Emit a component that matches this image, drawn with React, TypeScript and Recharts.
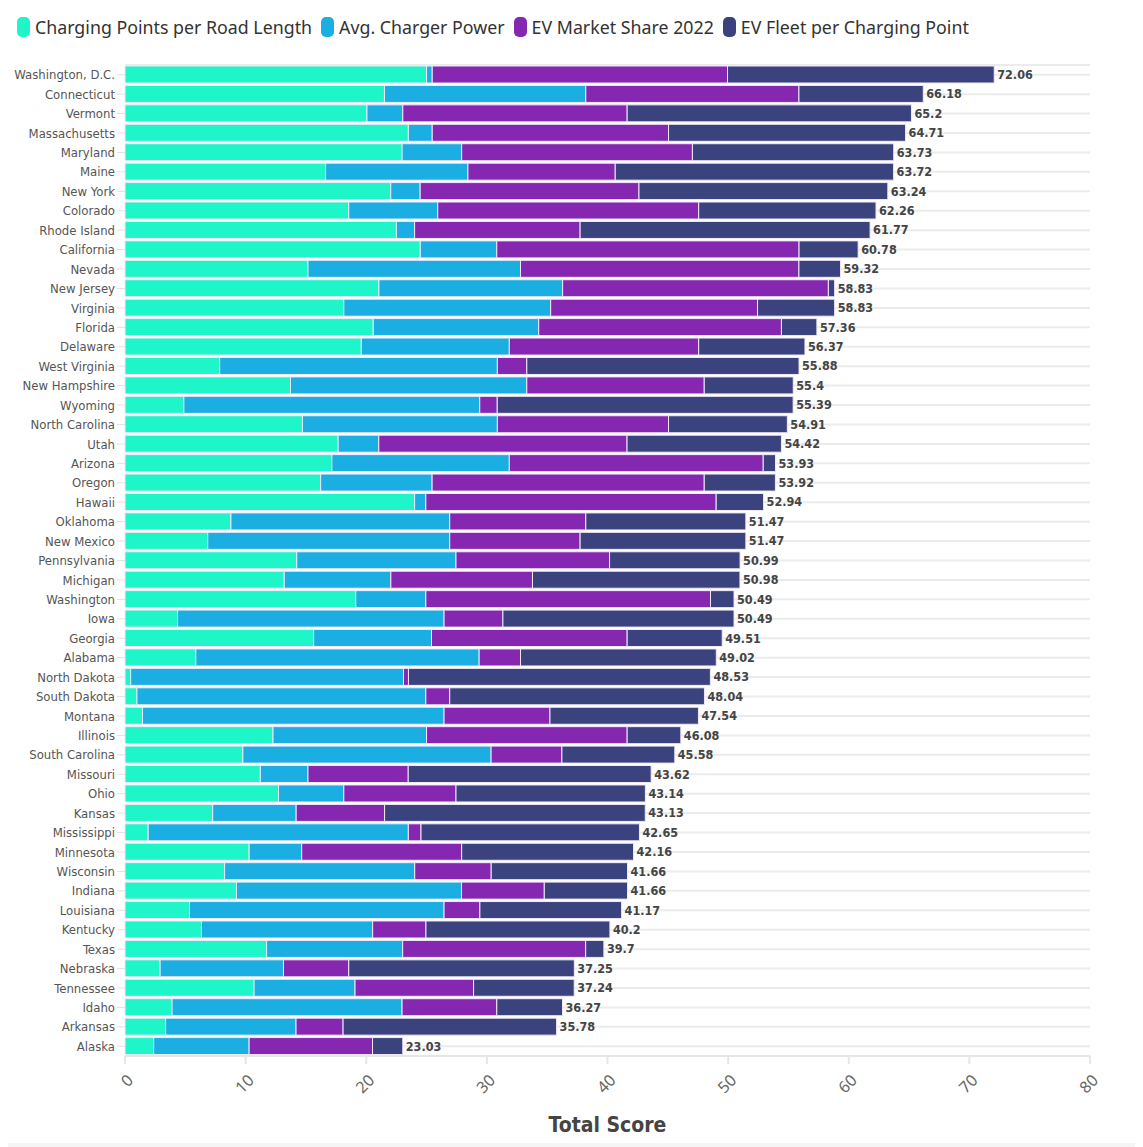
import React from "react";
import { BarChart, Bar, XAxis, YAxis, CartesianGrid, Legend, LabelList, Label } from "recharts";

const states = [
  "Washington, D.C.", "Connecticut", "Vermont", "Massachusetts", "Maryland", "Maine", "New York", "Colorado", "Rhode Island", "California",
  "Nevada", "New Jersey", "Virginia", "Florida", "Delaware", "West Virginia", "New Hampshire", "Wyoming", "North Carolina", "Utah",
  "Arizona", "Oregon", "Hawaii", "Oklahoma", "New Mexico", "Pennsylvania", "Michigan", "Washington", "Iowa", "Georgia",
  "Alabama", "North Dakota", "South Dakota", "Montana", "Illinois", "South Carolina", "Missouri", "Ohio", "Kansas", "Mississippi",
  "Minnesota", "Wisconsin", "Indiana", "Louisiana", "Kentucky", "Texas", "Nebraska", "Tennessee", "Idaho", "Arkansas", "Alaska",
];

const chargingPoints = [
  25.0, 21.51, 20.06, 23.49, 22.97, 16.63, 22.03, 18.55, 22.5, 24.48,
  15.17, 21.05, 18.14, 20.58, 19.59, 7.85, 13.72, 4.88, 14.71, 17.67,
  17.15, 16.22, 24.01, 8.78, 6.86, 14.24, 13.2, 19.13, 4.36, 15.64,
  5.87, 0.47, 0.99, 1.45, 12.27, 9.77, 11.22, 12.73, 7.27, 1.92,
  10.29, 8.26, 9.24, 5.35, 6.34, 11.74, 2.91, 10.7, 3.9, 3.37, 2.38,
];

const chargerPower = [
  0.47, 16.69, 2.97, 1.98, 4.94, 11.8, 2.44, 7.38, 1.51, 6.34,
  17.62, 15.23, 17.15, 13.72, 12.27, 23.02, 19.59, 24.53, 16.16, 3.37,
  14.71, 9.24, 0.93, 18.14, 20.06, 13.2, 8.84, 5.81, 22.09, 9.77,
  23.49, 22.62, 23.95, 25.0, 12.73, 20.58, 3.95, 5.41, 6.92, 21.57,
  4.36, 15.76, 18.66, 21.1, 14.19, 11.28, 10.23, 8.37, 19.07, 10.81, 7.91,
];

const marketShare = [
  24.48, 17.67, 18.6, 19.59, 19.13, 12.21, 18.14, 21.63, 13.72, 25.06,
  23.08, 22.03, 17.15, 20.12, 15.7, 2.44, 14.71, 1.45, 14.19, 20.58,
  21.05, 22.56, 24.07, 11.28, 10.81, 12.73, 11.74, 23.6, 4.88, 16.22,
  3.43, 0.41, 1.98, 8.78, 16.63, 5.87, 8.31, 9.3, 7.33, 1.05,
  13.26, 6.34, 6.86, 2.97, 4.42, 15.17, 5.41, 9.83, 7.85, 3.9, 10.23,
];

const fleetPerPoint = [
  22.11, 10.31, 23.57, 19.65, 16.69, 23.08, 20.63, 14.7, 24.04, 4.9,
  3.45, 0.52, 6.39, 2.94, 8.81, 22.57, 7.38, 24.53, 9.85, 12.8,
  1.02, 5.9, 3.93, 13.27, 13.74, 10.82, 17.2, 1.95, 19.16, 7.88,
  16.23, 25.03, 21.12, 12.31, 4.45, 9.36, 20.14, 15.7, 21.61, 18.11,
  14.25, 11.3, 6.9, 11.75, 15.25, 1.51, 18.7, 8.34, 5.45, 17.7, 2.51,
];

const totals = [
  72.06, 66.18, 65.2, 64.71, 63.73, 63.72, 63.24, 62.26, 61.77, 60.78,
  59.32, 58.83, 58.83, 57.36, 56.37, 55.88, 55.4, 55.39, 54.91, 54.42,
  53.93, 53.92, 52.94, 51.47, 51.47, 50.99, 50.98, 50.49, 50.49, 49.51,
  49.02, 48.53, 48.04, 47.54, 46.08, 45.58, 43.62, 43.14, 43.13, 42.65,
  42.16, 41.66, 41.66, 41.17, 40.2, 39.7, 37.25, 37.24, 36.27, 35.78, 23.03,
];

const xTicks = [0, 10, 20, 30, 40, 50, 60, 70, 80];

const seriesNames = ["Charging Points per Road Length", "Avg. Charger Power", "EV Market Share 2022", "EV Fleet per Charging Point"];
const seriesKeys = ["cp", "pw", "ms", "fl"];
const seriesColors = ["#1ef5c9", "#1aaee2", "#8527b0", "#3b437f"];

const data = states.map((s, i) => ({
  state: s,
  cp: chargingPoints[i],
  pw: chargerPower[i],
  ms: marketShare[i],
  fl: fleetPerPoint[i],
  total: totals[i],
}));

const FONT = '"Liberation Sans Narrow", "DejaVu Sans Condensed", "Roboto", sans-serif';

const LegendContent = () => (
  <div style={{ display: "flex", alignItems: "center", fontFamily: '"Noto Sans", sans-serif', fontSize: 17.8, color: "#333", whiteSpace: "nowrap" }}>
    {seriesNames.map((n, i) => (
      <div key={n} style={{ display: "flex", alignItems: "center", marginRight: 9 }}>
        <div style={{ width: 13, height: 20, borderRadius: 5, background: seriesColors[i], marginRight: 5 }} />
        <span>{n}</span>
      </div>
    ))}
  </div>
);

const XTick = (props: any) => {
  const { x, y, payload } = props;
  const ax = x + 5;
  const ay = y + 11;
  return (
    <text x={ax} y={ay} transform={`rotate(-45 ${ax} ${ay})`} textAnchor="end" dominantBaseline="central" fontSize={16} fill="#666" fontFamily='"Noto Sans", sans-serif'>
      {payload.value}
    </text>
  );
};

const TotalLabel = (p: any) => {
  const { x, y, width, height, value } = p;
  return (
    <text x={x + width + 3} y={y + height / 2} dy={4.5} fontSize={12.5} fontWeight="bold" fill="#444" fontFamily={FONT}>
      {value}
    </text>
  );
};

export default function App() {
  return (
    <div style={{ width: 1135, height: 1139, position: "relative", background: "#fff" }}>
      <BarChart
        width={1135}
        height={1128}
        data={data}
        layout="vertical"
        margin={{ top: 57, right: 53, bottom: 0, left: 0 }}
        barSize={17}
      >
        <CartesianGrid vertical={false} stroke="#ebebeb" strokeWidth={2} />
        <XAxis
          type="number"
          domain={[0, 80]}
          ticks={xTicks}
          interval={0}
          height={80}
          tickSize={8}
          axisLine={{ stroke: "#e6e6e6", strokeWidth: 2 }}
          tickLine={{ stroke: "#e6e6e6", strokeWidth: 2 }}
          tick={<XTick />}
        >
          <Label value="Total Score" position="insideBottom" offset={4} style={{ fontSize: 21, fontWeight: "bold", fill: "#444", fontFamily: FONT }} />
        </XAxis>
        <YAxis
          type="category"
          dataKey="state"
          width={117}
          interval={0}
          tickSize={8}
          tickMargin={2}
          axisLine={false}
          tickLine={{ stroke: "#e0e0e0" }}
          tick={{ fontSize: 13, fill: "#555", fontFamily: FONT }}
        />
        <Legend
          layout="horizontal"
          verticalAlign="middle"
          align="center"
          content={<LegendContent />}
          wrapperStyle={{ top: 7, left: 9, width: 1100, height: 26 }}
        />
        {seriesKeys.map((k, i) => (
          <Bar
            key={k}
            dataKey={k}
            name={seriesNames[i]}
            stackId="a"
            fill={seriesColors[i]}
            stroke="#f0eaf7"
            strokeWidth={1}
            isAnimationActive={false}
          >
            {i === 3 ? <LabelList dataKey="total" content={<TotalLabel />} /> : null}
          </Bar>
        ))}
      </BarChart>
      <div style={{ position: "absolute", left: -8, top: 1135, width: 1143, height: 12, background: "#f5f5f5" }} />
    </div>
  );
}
